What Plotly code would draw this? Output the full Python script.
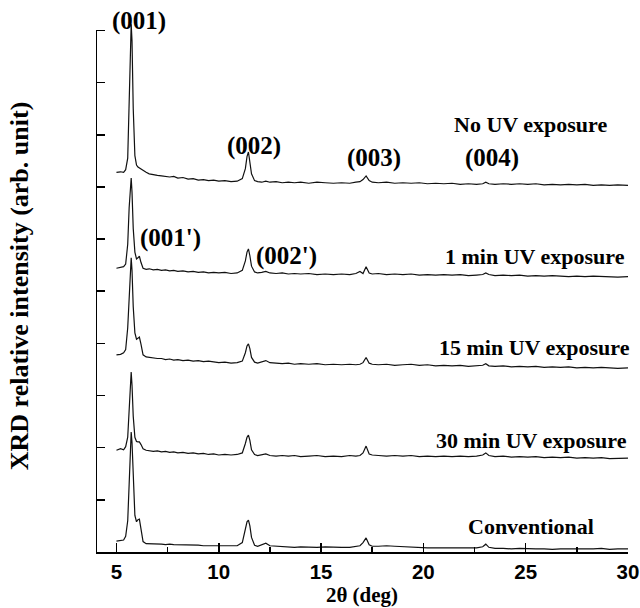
import plotly.graph_objects as go

# ---- data -------------------------------------------------------------
two_theta = [
    5.0, 5.2, 5.35, 5.45, 5.55, 5.62, 5.68, 5.72, 5.76, 5.82, 5.9,
    5.98, 6.05, 6.12, 6.2, 6.3, 6.45, 6.6, 6.8, 7.0,
    7.2, 7.4, 7.6, 7.8, 8.0, 8.25, 8.5, 8.75, 9.0, 9.25, 9.5, 9.75, 10.0, 10.3, 10.6, 10.9,
    11.15, 11.3, 11.38, 11.45, 11.52, 11.6, 11.75, 11.9, 12.1, 12.3, 12.5,
    12.8, 13.1, 13.4, 13.7, 14.0, 14.4, 14.8, 15.2, 15.6, 16.0, 16.4, 16.7, 16.9,
    17.05, 17.2, 17.35, 17.5, 17.8, 18.2, 18.6, 19.0, 19.4, 19.8, 20.2, 20.6, 21.0, 21.4, 21.8, 22.2, 22.6,
    22.9, 23.05, 23.2, 23.5, 23.9, 24.3, 24.7, 25.1, 25.5, 25.9, 26.3, 26.7, 27.1, 27.5, 27.9, 28.3, 28.7, 29.1, 29.5, 30.0,
]

no_uv = [
    7.28, 7.29, 7.28, 7.33, 7.55, 8.6, 9.75, 10.12, 9.8, 8.5, 7.6,
    7.42, 7.38, 7.36, 7.35, 7.31, 7.28, 7.25, 7.23, 7.22,
    7.21, 7.2, 7.19, 7.2, 7.17, 7.18, 7.15, 7.16, 7.13, 7.14, 7.12, 7.13, 7.11, 7.12, 7.1, 7.11,
    7.16, 7.35, 7.58, 7.67, 7.5, 7.25, 7.12, 7.1, 7.09, 7.11, 7.09,
    7.1, 7.08, 7.09, 7.08, 7.09, 7.07, 7.09, 7.08, 7.07, 7.08, 7.07, 7.09, 7.1,
    7.14, 7.21, 7.12, 7.09, 7.08, 7.09, 7.07, 7.08, 7.07, 7.08, 7.06, 7.07, 7.06, 7.07, 7.05, 7.06, 7.05,
    7.06, 7.09, 7.06, 7.05, 7.06, 7.05, 7.06, 7.05, 7.06, 7.04, 7.05, 7.04, 7.05, 7.04, 7.05, 7.03, 7.04, 7.03, 7.04, 7.03,
]

uv_1min = [
    5.44, 5.45, 5.47, 5.52, 5.9, 6.6, 7.1, 7.17, 6.9, 6.2, 5.75,
    5.62, 5.64, 5.67, 5.55, 5.44, 5.42, 5.43, 5.41, 5.42,
    5.4, 5.41, 5.39, 5.4, 5.38, 5.39, 5.37, 5.38, 5.36, 5.37, 5.35, 5.36, 5.35, 5.36, 5.34, 5.35,
    5.4, 5.58, 5.75, 5.81, 5.68, 5.48, 5.37, 5.35, 5.36, 5.38, 5.35,
    5.34, 5.35, 5.33, 5.34, 5.33, 5.34, 5.32, 5.33, 5.32, 5.33, 5.32, 5.34, 5.38,
    5.34, 5.47, 5.35, 5.33, 5.34, 5.32, 5.33, 5.32, 5.33, 5.31, 5.32, 5.31, 5.32, 5.31, 5.32, 5.3, 5.31,
    5.32, 5.35, 5.32, 5.3, 5.31, 5.3, 5.31, 5.29, 5.3, 5.29, 5.3, 5.29, 5.28, 5.29, 5.28, 5.29, 5.28, 5.28, 5.27, 5.28,
]

uv_15min = [
    3.78, 3.79, 3.82, 3.88, 4.3, 5.0, 5.55, 5.64, 5.4, 4.7, 4.2,
    4.08, 4.1, 4.12, 3.98, 3.78, 3.74, 3.73, 3.72, 3.71,
    3.71, 3.69, 3.7, 3.68, 3.69, 3.67, 3.68, 3.66, 3.67, 3.65, 3.66, 3.64, 3.63, 3.64, 3.62, 3.63,
    3.66, 3.82, 3.95, 3.99, 3.9, 3.73, 3.64, 3.62, 3.64, 3.67, 3.63,
    3.62, 3.61, 3.62, 3.6, 3.61, 3.6, 3.61, 3.59, 3.6, 3.59, 3.6, 3.59, 3.6,
    3.63, 3.73, 3.62, 3.6, 3.59, 3.6, 3.58, 3.59, 3.6, 3.58, 3.59, 3.57, 3.58, 3.57, 3.58, 3.56, 3.57,
    3.58, 3.61, 3.57, 3.56, 3.57, 3.55, 3.56, 3.55, 3.56, 3.54, 3.55, 3.54, 3.55, 3.53, 3.54, 3.53, 3.54, 3.53, 3.52, 3.53,
]

uv_30min = [
    1.95, 1.98, 1.96, 2.02, 2.2, 2.7, 3.3, 3.45, 3.2, 2.6, 2.2,
    2.12, 2.11, 2.11, 2.06, 1.98, 1.95, 1.94, 1.93, 1.94,
    1.92, 1.93, 1.91, 1.92, 1.9, 1.91, 1.89, 1.9, 1.88, 1.89, 1.87, 1.88, 1.86, 1.87, 1.86, 1.87,
    1.9, 2.08, 2.2, 2.24, 2.14, 1.96, 1.87, 1.85, 1.86, 1.88, 1.85,
    1.84, 1.85, 1.84, 1.85, 1.83, 1.84, 1.85, 1.83, 1.84, 1.83, 1.85, 1.84, 1.85,
    1.9, 2.03, 1.88, 1.86, 1.85, 1.84, 1.85, 1.84, 1.85, 1.83, 1.84, 1.83, 1.84, 1.83, 1.84, 1.83, 1.84,
    1.86, 1.9, 1.85, 1.83, 1.84, 1.82, 1.83, 1.82, 1.83, 1.81, 1.82, 1.81, 1.82, 1.8, 1.81, 1.8, 1.81, 1.79, 1.8, 1.8,
]

conventional = [
    0.21, 0.22, 0.23, 0.3, 0.6, 1.3, 2.05, 2.3, 2.1, 1.4, 0.7,
    0.58, 0.62, 0.63, 0.45, 0.2, 0.16, 0.16, 0.15, 0.15,
    0.15, 0.14, 0.15, 0.14, 0.14, 0.13, 0.14, 0.13, 0.13, 0.12, 0.12, 0.11, 0.12, 0.11, 0.11, 0.12,
    0.18, 0.42, 0.58, 0.61, 0.5, 0.28, 0.13, 0.11, 0.14, 0.17, 0.12,
    0.11, 0.1, 0.1, 0.09, 0.1, 0.09, 0.09, 0.1, 0.09, 0.09, 0.09, 0.1, 0.12,
    0.18, 0.27, 0.14, 0.11, 0.11, 0.12, 0.11, 0.1, 0.09, 0.09, 0.08, 0.08, 0.08, 0.07, 0.08, 0.07, 0.08,
    0.1, 0.15, 0.09, 0.07, 0.07, 0.06, 0.07, 0.06, 0.06, 0.06, 0.05, 0.06, 0.06, 0.05, 0.06, 0.06, 0.07, 0.05, 0.06, 0.06,
]

series_names = ["No UV exposure", "1 min UV exposure", "15 min UV exposure",
                "30 min UV exposure", "Conventional"]
series_values = [no_uv, uv_1min, uv_15min, uv_30min, conventional]

x_tick_values = [5, 10, 15, 20, 25, 30]
x_tick_labels = ["5", "10", "15", "20", "25", "30"]

peak_labels = ["(001)", "(002)", "(003)", "(004)", "(001')", "(002')"]

# ---- figure -----------------------------------------------------------
SERIF = "Liberation Serif, Times New Roman, serif"
SANS = "Liberation Sans, Arial, sans-serif"

fig = go.Figure()
for name, vals in zip(series_names, series_values):
    fig.add_trace(go.Scatter(x=two_theta, y=vals, mode="lines", name=name,
                             line=dict(color="#111111", width=1.2),
                             showlegend=False, hoverinfo="skip"))

name_font = dict(family=SERIF, size=22, color="black", weight="bold")
peak_font = dict(family=SERIF, size=25, color="black", weight="bold")

# series name labels: right edge in paper coords (plot spans x=96..628 px)
PLOT_L, PLOT_W = 96, 532
name_pos = [(609, 8.2), (627, 5.66), (632, 3.93), (629, 2.13), (596, 0.48)]
for name, (px, yy) in zip(series_names, name_pos):
    fig.add_annotation(x=(px - PLOT_L) / PLOT_W, xref="paper", y=yy, text=name,
                       showarrow=False, xanchor="right", yanchor="middle", font=name_font)

# peak labels (centered)
peak_pos = [(6.09, 10.19), (11.71, 7.78), (17.6, 7.55), (23.33, 7.55), (7.63, 6.02), (13.3, 5.67)]
for txt, (xx, yy) in zip(peak_labels, peak_pos):
    fig.add_annotation(x=xx, y=yy, text=txt, showarrow=False, xanchor="center",
                       yanchor="middle", font=peak_font)

# left axis line (ends at the top tick)
fig.add_shape(type="line", xref="x", yref="y", x0=4, x1=4, y0=0, y1=10,
              line=dict(color="black", width=2))

fig.update_layout(
    width=640, height=608,
    margin=dict(l=96, r=12, t=20, b=56),
    paper_bgcolor="white", plot_bgcolor="white",
    hovermode=False,
    xaxis=dict(
        range=[4, 30], tickvals=x_tick_values, ticktext=x_tick_labels,
        ticks="inside", ticklen=9, tickwidth=1.5, tickcolor="black",
        minor=dict(tickvals=[7.5, 12.5, 17.5, 22.5, 27.5], ticks="inside",
                   ticklen=5, tickwidth=1.5, tickcolor="black"),
        showline=True, linewidth=2, linecolor="black",
        showgrid=False, zeroline=False, automargin=False,
        tickfont=dict(family=SANS, size=20.5, color="black", weight="bold"),
        title=dict(text="2θ (deg)", standoff=0,
                   font=dict(family=SERIF, size=21, color="black", weight="bold")),
    ),
    yaxis=dict(
        range=[0, 10.2], tickvals=list(range(0, 11)),
        ticks="inside", ticklen=9, tickwidth=1.5, tickcolor="black",
        showticklabels=False, showline=False, showgrid=False, zeroline=False,
        automargin=False,
        title=dict(text="XRD relative intensity (arb. unit)", standoff=58,
                   font=dict(family=SERIF, size=26, color="black", weight="bold")),
    ),
)

# remove the page's default body margin so the 640x608 figure fills the window exactly
fig.write_html("out.html",
               config={"displayModeBar": False, "staticPlot": True},
               post_script="document.body.style.margin='0';document.body.style.overflow='hidden';")
